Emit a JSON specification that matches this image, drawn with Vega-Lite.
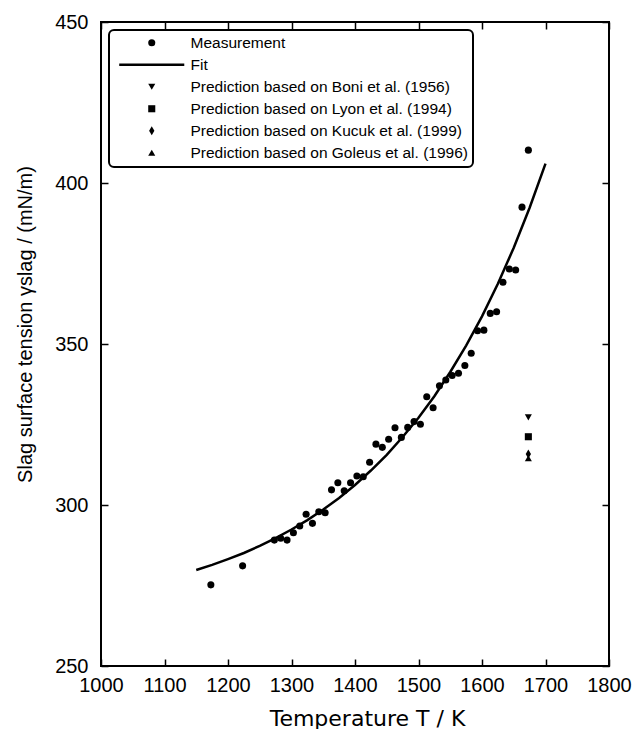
{
  "$schema": "https://vega.github.io/schema/vega-lite/v6.json",
  "width": 508,
  "height": 644,
  "autosize": "none",
  "padding": {"left": 101, "top": 22, "right": 24, "bottom": 63},
  "background": "white",
  "data": {"values": [
    {"series": "Measurement", "T": 1173, "gamma": 275.2},
    {"series": "Measurement", "T": 1223, "gamma": 281.1},
    {"series": "Measurement", "T": 1273, "gamma": 289.1},
    {"series": "Measurement", "T": 1283, "gamma": 289.7},
    {"series": "Measurement", "T": 1293, "gamma": 289.1},
    {"series": "Measurement", "T": 1303, "gamma": 291.4},
    {"series": "Measurement", "T": 1313, "gamma": 293.5},
    {"series": "Measurement", "T": 1323, "gamma": 297.1},
    {"series": "Measurement", "T": 1333, "gamma": 294.3},
    {"series": "Measurement", "T": 1343, "gamma": 297.9},
    {"series": "Measurement", "T": 1353, "gamma": 297.6},
    {"series": "Measurement", "T": 1363, "gamma": 304.7},
    {"series": "Measurement", "T": 1373, "gamma": 306.9},
    {"series": "Measurement", "T": 1383, "gamma": 304.4},
    {"series": "Measurement", "T": 1393, "gamma": 306.9},
    {"series": "Measurement", "T": 1403, "gamma": 309.0},
    {"series": "Measurement", "T": 1413, "gamma": 308.8},
    {"series": "Measurement", "T": 1423, "gamma": 313.3},
    {"series": "Measurement", "T": 1433, "gamma": 318.9},
    {"series": "Measurement", "T": 1443, "gamma": 317.9},
    {"series": "Measurement", "T": 1453, "gamma": 320.4},
    {"series": "Measurement", "T": 1463, "gamma": 324.0},
    {"series": "Measurement", "T": 1473, "gamma": 321.0},
    {"series": "Measurement", "T": 1483, "gamma": 324.1},
    {"series": "Measurement", "T": 1493, "gamma": 325.9},
    {"series": "Measurement", "T": 1503, "gamma": 325.1},
    {"series": "Measurement", "T": 1513, "gamma": 333.6},
    {"series": "Measurement", "T": 1523, "gamma": 330.2},
    {"series": "Measurement", "T": 1533, "gamma": 337.0},
    {"series": "Measurement", "T": 1543, "gamma": 338.8},
    {"series": "Measurement", "T": 1553, "gamma": 340.2},
    {"series": "Measurement", "T": 1563, "gamma": 340.9},
    {"series": "Measurement", "T": 1573, "gamma": 343.3},
    {"series": "Measurement", "T": 1583, "gamma": 347.1},
    {"series": "Measurement", "T": 1593, "gamma": 354.1},
    {"series": "Measurement", "T": 1603, "gamma": 354.3},
    {"series": "Measurement", "T": 1613, "gamma": 359.5},
    {"series": "Measurement", "T": 1623, "gamma": 360.0},
    {"series": "Measurement", "T": 1633, "gamma": 369.2},
    {"series": "Measurement", "T": 1643, "gamma": 373.3},
    {"series": "Measurement", "T": 1653, "gamma": 373.0},
    {"series": "Measurement", "T": 1663, "gamma": 392.5},
    {"series": "Measurement", "T": 1673, "gamma": 410.2},
    {"series": "Prediction based on Boni et al. (1956)", "T": 1673, "gamma": 327.2},
    {"series": "Prediction based on Lyon et al. (1994)", "T": 1673, "gamma": 321.2},
    {"series": "Prediction based on Kucuk et al. (1999)", "T": 1673, "gamma": 315.8},
    {"series": "Prediction based on Goleus et al. (1996)", "T": 1673, "gamma": 314.5},
    {"series": "Fit", "T": 1150, "gamma": 279.8},
    {"series": "Fit", "T": 1175, "gamma": 281.4},
    {"series": "Fit", "T": 1200, "gamma": 283.2},
    {"series": "Fit", "T": 1225, "gamma": 285.1},
    {"series": "Fit", "T": 1250, "gamma": 287.3},
    {"series": "Fit", "T": 1275, "gamma": 289.7},
    {"series": "Fit", "T": 1300, "gamma": 292.4},
    {"series": "Fit", "T": 1325, "gamma": 295.3},
    {"series": "Fit", "T": 1350, "gamma": 298.6},
    {"series": "Fit", "T": 1375, "gamma": 302.2},
    {"series": "Fit", "T": 1400, "gamma": 306.2},
    {"series": "Fit", "T": 1425, "gamma": 310.7},
    {"series": "Fit", "T": 1450, "gamma": 315.6},
    {"series": "Fit", "T": 1475, "gamma": 321.1},
    {"series": "Fit", "T": 1500, "gamma": 327.1},
    {"series": "Fit", "T": 1525, "gamma": 333.8},
    {"series": "Fit", "T": 1550, "gamma": 341.3},
    {"series": "Fit", "T": 1575, "gamma": 349.5},
    {"series": "Fit", "T": 1600, "gamma": 358.6},
    {"series": "Fit", "T": 1625, "gamma": 368.7},
    {"series": "Fit", "T": 1650, "gamma": 379.9},
    {"series": "Fit", "T": 1675, "gamma": 392.3},
    {"series": "Fit", "T": 1700, "gamma": 406.0}
  ]},
  "layer": [
    {
      "transform": [{"filter": "datum.series === 'Fit'"}],
      "mark": {"type": "line", "color": "black", "strokeWidth": 2.5},
      "encoding": {
        "x": {"field": "T", "type": "quantitative",
              "scale": {"domain": [1000, 1800], "nice": false, "zero": false},
              "axis": {"orient": "top", "labels": false, "title": null, "values": [1000, 1100, 1200, 1300, 1400, 1500, 1600, 1700, 1800]}},
        "y": {"field": "gamma", "type": "quantitative",
              "scale": {"domain": [250, 450], "nice": false, "zero": false},
              "axis": {"orient": "right", "labels": false, "title": null, "values": [250, 300, 350, 400, 450]}}
      }
    },
    {
      "transform": [{"filter": "datum.series !== 'Fit'"}],
      "mark": {"type": "point", "filled": true, "color": "black", "opacity": 1, "size": 50},
      "encoding": {
        "x": {"field": "T", "type": "quantitative",
              "axis": {"orient": "bottom", "title": "Temperature T / K", "format": "d", "labelOverlap": false, "labelFlush": false, "values": [1000, 1100, 1200, 1300, 1400, 1500, 1600, 1700, 1800],
                       "labelPadding": 16, "titleFont": "DejaVu Sans", "titleFontSize": 22,
                       "titleX": 266, "titleY": 59, "titleBaseline": "alphabetic", "titleAlign": "center"}},
        "y": {"field": "gamma", "type": "quantitative",
              "axis": {"orient": "left", "title": "Slag surface tension γslag / (mN/m)", "format": "d", "labelOverlap": false, "values": [250, 300, 350, 400, 450],
                       "labelPadding": 20, "titleFontSize": 20, "titleX": -66, "titleY": 302, "titleBaseline": "bottom", "titleAlign": "center"}},
        "shape": {"field": "series", "type": "nominal",
                  "scale": {"domain": ["Measurement", "Fit", "Prediction based on Boni et al. (1956)", "Prediction based on Lyon et al. (1994)", "Prediction based on Kucuk et al. (1999)", "Prediction based on Goleus et al. (1996)"],
                            "range": ["circle", "M-9.2,-0.36L9.2,-0.36L9.2,0.36L-9.2,0.36Z", "triangle-down", "square", "M0,-1.3L0.75,0L0,1.3L-0.75,0Z", "triangle-up"]},
                  "legend": {
                    "title": null, "orient": "top-left", "offset": 8, "padding": 5,
                    "strokeColor": "black", "fillColor": "white", "cornerRadius": 5,
                    "symbolSize": 50, "symbolFillColor": "black", "symbolStrokeWidth": 0, "symbolOffset": 30, "labelOffset": 31, "rowPadding": 5,
                    "labelFont": "Liberation Sans", "labelFontSize": 15.5, "labelColor": "black", "labelLimit": 400
                  }}
      }
    }
  ],
  "resolve": {"axis": {"x": "independent", "y": "independent"}},
  "config": {
    "view": {"stroke": "black", "strokeWidth": 2},
    "legend": {"strokeWidth": 2},
    "axis": {
      "domain": false, "grid": false,
      "ticks": true, "tickColor": "black", "tickWidth": 1.5, "tickSize": -7,
      "labelFont": "Liberation Sans", "labelFontSize": 20, "labelColor": "black",
      "titleFont": "Liberation Sans", "titleFontWeight": "normal", "titleColor": "black"
    }
  }
}
